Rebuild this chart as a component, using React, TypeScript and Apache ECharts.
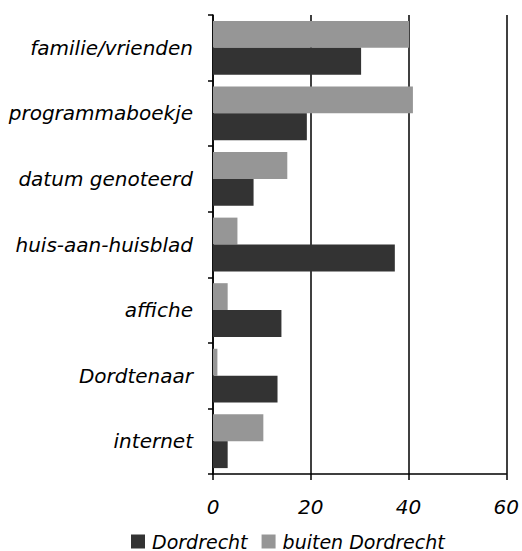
import React, { useEffect, useRef } from "react";
import * as echarts from "echarts";

const categories = [
  "familie/vrienden",
  "programmaboekje",
  "datum genoteerd",
  "huis-aan-huisblad",
  "affiche",
  "Dordtenaar",
  "internet",
];
const dordrecht = [30.3, 19.2, 8.3, 37.2, 14.0, 13.2, 3.0];
const buitenDordrecht = [40.1, 40.9, 15.2, 5.0, 3.0, 0.9, 10.3];
const xTicks = { min: 0, max: 60, interval: 20 };

const FONT = "'DejaVu Sans', Verdana, sans-serif";

export default function App() {
  const ref = useRef<HTMLDivElement>(null);
  useEffect(() => {
    document.body.style.margin = "0";
    if (!ref.current) return;
    const chart = echarts.init(ref.current, null, { renderer: "svg" });
    chart.setOption({
      animation: false,
      textStyle: { fontFamily: FONT },
      grid: { left: 213, right: 14, top: 15, bottom: 77, containLabel: false },
      legend: {
        data: ["Dordrecht", "buiten Dordrecht"],
        left: 126,
        top: 527,
        itemWidth: 14,
        itemHeight: 14,
        itemGap: 14,
        icon: "rect",
        textStyle: {
          fontFamily: FONT,
          fontStyle: "italic",
          fontSize: 19,
          color: "#000",
          padding: [0, 0, 0, 2],
        },
      },
      xAxis: {
        type: "value",
        min: xTicks.min,
        max: xTicks.max,
        interval: xTicks.interval,
        axisLine: { show: true, lineStyle: { color: "#000", width: 1.5 } },
        axisTick: { show: true, length: 6, lineStyle: { color: "#000", width: 1.5 } },
        axisLabel: {
          margin: 23,
          fontFamily: FONT,
          fontStyle: "italic",
          fontSize: 20,
          color: "#000",
        },
        splitLine: { show: true, lineStyle: { color: "#000", width: 1.5 } },
      },
      yAxis: {
        type: "category",
        data: categories,
        inverse: true,
        axisLine: { show: true, lineStyle: { color: "#000", width: 1.5 } },
        axisTick: { show: true, length: 5, lineStyle: { color: "#000", width: 1.5 } },
        axisLabel: {
          margin: 20,
          fontFamily: FONT,
          fontStyle: "italic",
          fontSize: 20,
          color: "#000",
        },
      },
      series: [
        {
          name: "buiten Dordrecht",
          type: "bar",
          data: buitenDordrecht,
          itemStyle: { color: "#969696" },
          barGap: "0%",
          barCategoryGap: "18%",
        },
        {
          name: "Dordrecht",
          type: "bar",
          data: dordrecht,
          itemStyle: { color: "#333333" },
          barGap: "0%",
          barCategoryGap: "18%",
        },
      ],
    });
    return () => chart.dispose();
  }, []);
  return <div ref={ref} style={{ width: 522, height: 551 }} />;
}
